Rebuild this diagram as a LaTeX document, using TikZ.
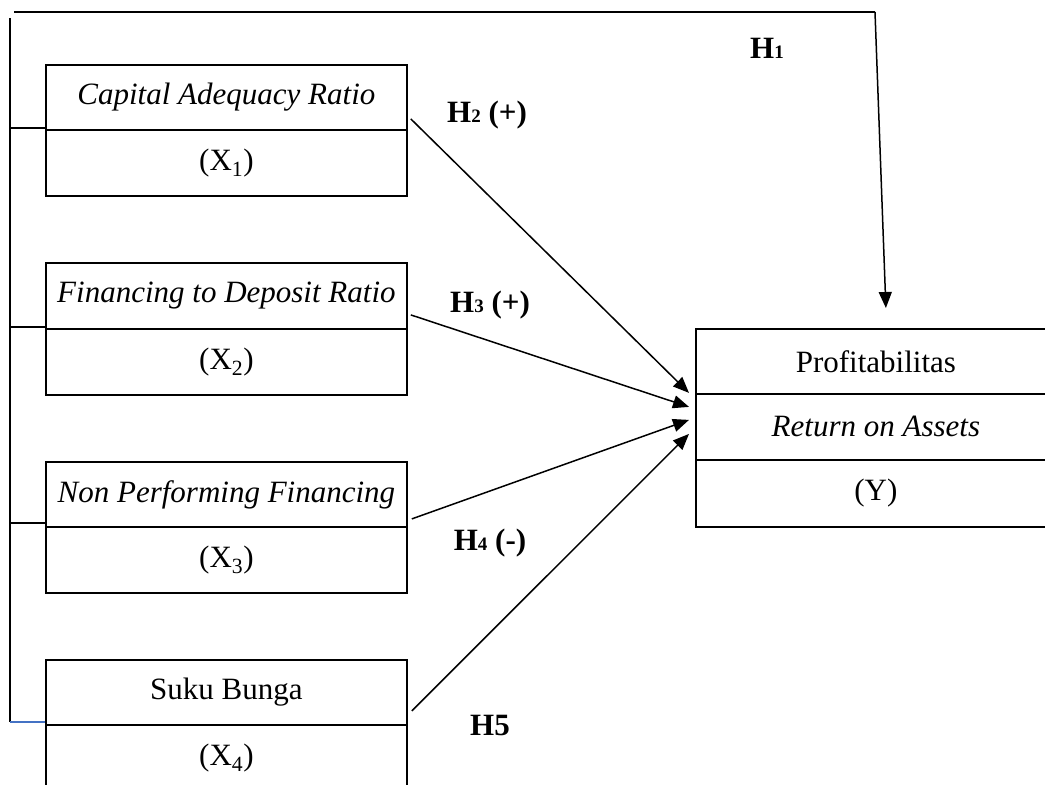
\documentclass[tikz,border=0pt]{standalone}
\usepackage{fontspec}
\setmainfont{Liberation Serif}
\usetikzlibrary{arrows.meta,calc}
\newcommand{\hsub}[1]{{\fontsize{19}{19}\selectfont #1}}
\begin{document}
\begin{tikzpicture}[x=1pt,y=-1pt,
  cell/.style={draw, line width=1.8pt, minimum width=361pt, inner sep=0pt,
    font=\fontsize{31}{31}\selectfont, anchor=north west},
  hlab/.style={font=\bfseries\fontsize{31}{31}\selectfont, inner sep=0pt},
  link/.style={line width=1.5pt},
  arr/.style={line width=1.5pt, -{Triangle[length=16pt,width=13pt]}},
]
\useasboundingbox (0,0) rectangle (1045,785);
\clip (0,0) rectangle (1045,785);

% independent variable boxes
\node[cell, minimum height=65pt] (c1) at (45,64) {\textit{Capital Adequacy Ratio}};
\node[cell, minimum height=66pt] (x1) at (45,129) {(X\textsubscript{1})};
\node[cell, minimum height=66pt] (c2) at (45,262) {\textit{Financing to Deposit Ratio}};
\node[cell, minimum height=66pt] (x2) at (45,328) {(X\textsubscript{2})};
\node[cell, minimum height=65pt] (c3) at (45,461) {\textit{Non Performing Financing}};
\node[cell, minimum height=66pt] (x3) at (45,526) {(X\textsubscript{3})};
\node[cell, minimum height=65pt] (c4) at (45,659) {Suku Bunga};
\node[cell, minimum height=66pt] (x4) at (45,724) {(X\textsubscript{4})};

% dependent variable box
\node[cell, minimum width=360pt, minimum height=65pt] (p) at (695,328) {Profitabilitas};
\node[cell, minimum width=360pt, minimum height=66pt] (r) at (695,393) {\textit{Return on Assets}};
\node[cell, minimum width=360pt, minimum height=67pt] (y) at (695,459) {(Y)};

% hypothesis labels
\node[hlab] (h1) at (767,48) {H\hsub{1}};
\node[hlab] (h2) at (487,115) {H\hsub{2} (+)};
\node[hlab] (h3) at (490,305) {H\hsub{3} (+)};
\node[hlab] (h4) at (490,543) {H\hsub{4} (-)};
\node[hlab] (h5) at (490,725) {H5};

% left bus and top line
\coordinate (tl) at (14,12);
\coordinate (tr) at (875,12);
\coordinate (bt) at (10,18);
\coordinate (b1) at (10,128);
\coordinate (b2) at (10,327);
\coordinate (b3) at (10,523);
\coordinate (b4) at (10,722);
\draw[link] (tl) -- (tr);
\draw[link] (bt) -- (b4);
\draw[link] (b1) -- (b1 -| c1.west);
\draw[link] (b2) -- (b2 -| c2.west);
\draw[link] (b3) -- (b3 -| c3.west);
\draw[line width=1.5pt, color={rgb,255:red,68;green,114;blue,196}] (b4) -- (b4 -| c4.west);

% arrows
\draw[arr] (tr) -- ($(p.north)+(10,-20)$);
\draw[arr] ($(c1.east)+(3,21.5)$) -- ($(p.west)+(-6,31.5)$);
\draw[arr] ($(c2.east)+(3,19)$) -- ($(p.west)+(-6,45.5)$);
\draw[arr] ($(c3.east)+(4,24.5)$) -- ($(p.west)+(-6,58.5)$);
\draw[arr] ($(c4.east)+(4,18.5)$) -- ($(p.west)+(-6,72.5)$);
\end{tikzpicture}
\end{document}
